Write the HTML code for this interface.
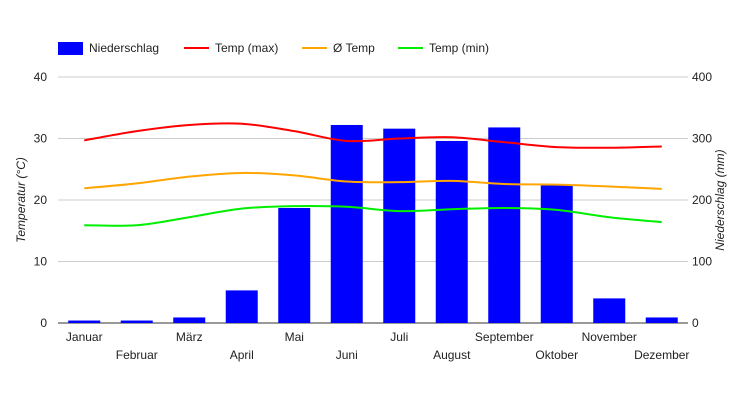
<!DOCTYPE html>
<html><head><meta charset="utf-8"><style>
body{margin:0;background:#fff;font-family:"Liberation Sans",Arial,sans-serif}
svg text{font-family:"Liberation Sans",Arial,sans-serif;font-size:12px;fill:#222}
</style></head><body>
<svg id="c" width="731" height="400"></svg>
<script>
const months=["Januar","Februar","März","April","Mai","Juni","Juli","August","September","Oktober","November","Dezember"];
const precip=[4,4,9,53,187,322,316,296,318,224,40,9];
const tmax=[29.7,31.2,32.2,32.4,31.2,29.6,30.0,30.2,29.4,28.6,28.5,28.7];
const tavg=[21.9,22.7,23.8,24.4,24.0,23.0,22.9,23.1,22.6,22.5,22.2,21.8];
const tmin=[15.9,15.9,17.2,18.6,19.0,18.9,18.2,18.5,18.7,18.4,17.2,16.4];
const leftTicks=[0,10,20,30,40];
const rightTicks=[0,100,200,300,400];
const NS="http://www.w3.org/2000/svg",svg=document.getElementById('c');
const X0=58,X1=688,Y0=323,Y1=77,step=(X1-X0)/months.length;
const xc=i=>X0+step*(i+0.5);
const yT=v=>Y0-(v/40)*(Y0-Y1);
const yP=v=>Y0-(v/400)*(Y0-Y1);
function mk(t,a,p){const e=document.createElementNS(NS,t);for(const k in a)e.setAttribute(k,a[k]);(p||svg).appendChild(e);return e;}
leftTicks.forEach((v,i)=>{
 const g=mk('line',{x1:X0,x2:X1,y1:yT(v),y2:yT(v),stroke:i==0?'#333':'#ccc','stroke-width':1});
 
 
 const t=mk('text',{x:47,y:yT(v)+4,'text-anchor':'end'});t.textContent=v;
 
 
});
rightTicks.forEach(v=>{
 const t=mk('text',{x:692,y:yP(v)+4});t.textContent=v;
 
 
});
precip.forEach((v,i)=>{
 const r=mk('rect',{x:xc(i)-16,y:yP(v),width:32,height:Y0-yP(v),fill:'#0000ff'});
 
 
});
months.forEach((m,i)=>{
 const t=mk('text',{x:xc(i),y:i%2?359:341,'text-anchor':'middle'});t.textContent=m;
 
 
});
function curve(arr,col,name){
 const p=arr.map((v,i)=>[xc(i),yT(v)]);
 let d='M'+p[0];
 for(let i=0;i<p.length-1;i++){
  const a=p[i-1]||p[i],b=p[i],c=p[i+1],e=p[i+2]||c;
  d+=' C'+(b[0]+(c[0]-a[0])/6)+','+(b[1]+(c[1]-a[1])/6)+' '+(c[0]-(e[0]-b[0])/6)+','+(c[1]-(e[1]-b[1])/6)+' '+c[0]+','+c[1];
 }
 const l=mk('path',{d:d,fill:'none',stroke:col,'stroke-width':2});
 
 
}
curve(tavg,'#ffa500','avg-temp-line');
curve(tmin,'#00ee00','min-temp-line');
curve(tmax,'#ff0000','max-temp-line');
const lt=mk('text',{x:25,y:200,transform:'rotate(-90 25 200)','text-anchor':'middle','font-style':'italic'});lt.textContent='Temperatur (°C)';


const rt=mk('text',{x:724,y:200,transform:'rotate(-90 724 200)','text-anchor':'middle','font-style':'italic'});rt.textContent='Niederschlag (mm)';


const leg=[['rect','#0000ff','Niederschlag',58],['line','#ff0000','Temp (max)',184],['line','#ffa500','Ø Temp',302],['line','#00ee00','Temp (min)',398]];
leg.forEach(([k,c,txt,x])=>{
 const g=mk('g',{});
 
 
 if(k=='rect')mk('rect',{x:x,y:42,width:25,height:13,fill:c},g);
 else mk('line',{x1:x,x2:x+25,y1:48,y2:48,stroke:c,'stroke-width':2},g);
 const t=mk('text',{x:x+31,y:52},g);t.textContent=txt;
});
</script>
</body></html>
